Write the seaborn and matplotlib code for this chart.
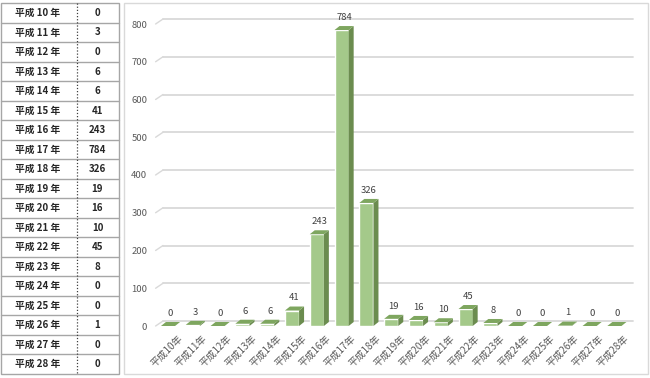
import numpy as np
import pandas as pd
import matplotlib
matplotlib.use("Agg")
import matplotlib.pyplot as plt
import seaborn as sns
from matplotlib.patches import Polygon, Rectangle
from matplotlib.lines import Line2D
from matplotlib.transforms import ScaledTranslation

# ---- data ----
years = ["平成10年", "平成11年", "平成12年", "平成13年", "平成14年", "平成15年",
         "平成16年", "平成17年", "平成18年", "平成19年", "平成20年", "平成21年",
         "平成22年", "平成23年", "平成24年", "平成25年", "平成26年", "平成27年",
         "平成28年"]
table_labels = ["平成 10 年", "平成 11 年", "平成 12 年", "平成 13 年", "平成 14 年",
                "平成 15 年", "平成 16 年", "平成 17 年", "平成 18 年", "平成 19 年",
                "平成 20 年", "平成 21 年", "平成 22 年", "平成 23 年", "平成 24 年",
                "平成 25 年", "平成 26 年", "平成 27 年", "平成 28 年"]
values = [0, 3, 0, 6, 6, 41, 243, 784, 326, 19, 16, 10, 45, 8, 0, 0, 1, 0, 0]
yticks = [0, 100, 200, 300, 400, 500, 600, 700, 800]

sns.set_theme(style="white")
plt.rcParams['font.family'] = ['Noto Sans CJK JP', 'DejaVu Sans']

W, H = 650, 378
fig = plt.figure(figsize=(W / 100, H / 100), dpi=100)
fig.patch.set_facecolor("white")

# ---- background axes in pixel coordinates: table + panel border ----
bg = fig.add_axes([0, 0, 1, 1])
bg.set_xlim(0, W)
bg.set_ylim(H, 0)
bg.axis("off")

top, bottom = 3.2, 374.0
nrows = len(table_labels)
rh = (bottom - top) / nrows
tl, tr, tdiv = 0.5, 118.5, 76.5
bg.add_patch(Rectangle((tl, top), tr - tl, bottom - top, fill=False,
                       edgecolor="#a6a6a6", lw=1.0))
for i in range(1, nrows):
    y = top + i * rh
    bg.add_line(Line2D([tl, tr], [y, y], color="#a6a6a6", lw=1.0))
bg.add_line(Line2D([tdiv, tdiv], [top, bottom], color="#404040", lw=0.9,
                   linestyle=(0, (1, 1.5))))
for i, (lab, v) in enumerate(zip(table_labels, values)):
    yc = top + (i + 0.5) * rh
    bg.text(38, yc, lab, ha="center", va="center", fontsize=7,
            fontweight="bold", color="#262626")
    bg.text(97.5, yc, str(v), ha="center", va="center", fontsize=7,
            fontweight="bold", color="#262626")

# chart panel border
bg.add_patch(Rectangle((123.5, 3.2), 648 - 123.5, 374 - 3.2, fill=False,
                       edgecolor="#d9d9d9", lw=1.0))

# ---- main chart axes (front plane) ----
cat_w = 24.8
x0_px = 168 - cat_w / 2
base_px = 326
scale = 302 / 800  # px per unit
ax = fig.add_axes([x0_px / W, (H - base_px) / H, cat_w * 19 / W, 302 / H])
ax.set_zorder(2)
ax.patch.set_alpha(0)

df = pd.DataFrame({"year": years, "count": values})
front_col = "#a4c98a"
side_col = "#6b8c4f"
top_col = "#7ea65f"
sns.barplot(data=df, x="year", y="count", color=front_col, width=0.57,
            saturation=1, ax=ax, zorder=3)
ax.set_xlim(-0.5, 18.5)
ax.set_ylim(0, 800)

# 3D offsets (in data units)
ddx = 5 / cat_w
ddy = 4 / scale
wdx = 7.4 / cat_w
wdy = 5 / scale

# back-wall gridlines + diagonal floor ticks
for v in yticks:
    ax.add_line(Line2D([-0.5 + wdx, 18.5 + wdx * 0.8], [v + wdy, v + wdy],
                       color="#d9d9d9", lw=1.3, zorder=1, clip_on=False))
    ax.add_line(Line2D([-0.5, -0.5 + wdx], [v, v + wdy],
                       color="#d9d9d9", lw=1.0, zorder=1, clip_on=False))

for p, v in zip(list(ax.patches), values):
    x0 = p.get_x()
    w = p.get_width()
    h = p.get_height()
    x1 = x0 + w
    side = Polygon([(x1, 0), (x1 + ddx, ddy), (x1 + ddx, h + ddy), (x1, h)],
                   closed=True, facecolor=side_col, edgecolor="none",
                   zorder=3, clip_on=False)
    topf = Polygon([(x0, h), (x1, h), (x1 + ddx, h + ddy), (x0 + ddx, h + ddy)],
                   closed=True, facecolor=top_col, edgecolor="none",
                   zorder=4, clip_on=False)
    ax.add_patch(side)
    ax.add_patch(topf)
    ax.annotate(str(v), xy=(x0 + w / 2 + ddx / 2, h + ddy), xytext=(0, 3),
                textcoords="offset points", ha="center", va="bottom",
                fontsize=6.8, color="#404040", annotation_clip=False)

# axes styling
for s in ax.spines.values():
    s.set_visible(False)
ax.set_xlabel("")
ax.set_ylabel("")
ax.set_yticks(yticks)
ax.set_yticklabels([str(t) for t in yticks], fontsize=6.8, color="#595959")
ax.tick_params(axis="y", length=0, pad=6)
ax.set_xticks(range(len(years)))
ax.set_xticklabels(years, rotation=45, ha="right", rotation_mode="anchor",
                   fontsize=7, color="#595959")
ax.tick_params(axis="x", length=0, pad=5)
for lab in ax.get_xticklabels():
    lab.set_transform(lab.get_transform() +
                      ScaledTranslation(9 / 100, 0, fig.dpi_scale_trans))
ax.grid(False)

fig.savefig("out.png", dpi=100, facecolor="white")
